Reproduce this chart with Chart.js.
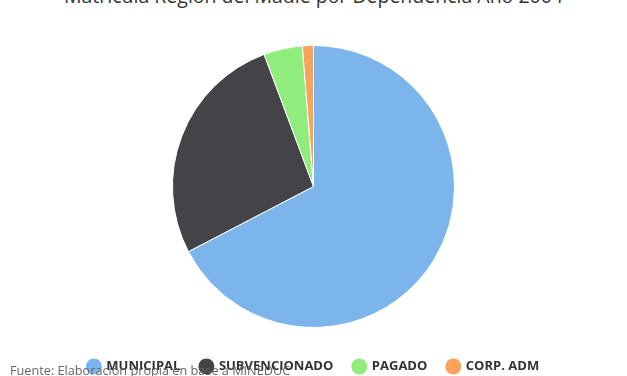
<!DOCTYPE html>
<html>
<head>
<meta charset="utf-8">
<script src="https://cdn.jsdelivr.net/npm/chart.js@4"></script>
<style>
  body { margin: 0; background: #fff; overflow: hidden; }
  #wrap { position: relative; width: 627px; height: 376px; }
  #title {
    position: absolute; left: 0; top: -14px; width: 627px;
    text-align: center; font: 19.5px "Open Sans", sans-serif; line-height: 19.5px;
    color: #333333; white-space: nowrap;
  }
  #footer {
    position: absolute; left: 10px; top: 364px;
    font: 12.7px "Open Sans", sans-serif; line-height: 13px; color: #666666;
    white-space: nowrap; z-index: 2;
  }
  canvas { position: absolute; left: 0; top: 0; }
</style>
</head>
<body>
<div id="wrap">
  <div id="title">Matrícula Región del Maule por Dependencia Año 2004</div>
  <canvas id="pieChart" width="627" height="376"></canvas>
  <div id="footer">Fuente: Elaboración propia en base a MINEDUC</div>
</div>
<script>
// data
const categories = ["MUNICIPAL", "SUBVENCIONADO", "PAGADO", "CORP. ADM"];
const matricula = [155000, 62000, 10200, 2900];
const colors = ["#7cb5ec", "#434348", "#90ed7d", "#f7a35c"];

const ctx = document.getElementById("pieChart").getContext("2d");

const chart = new Chart(ctx, {
    type: "pie",
    data: {
        labels: categories,
        datasets: [{
            data: matricula,
            backgroundColor: colors,
            borderColor: "#ffffff",
            borderWidth: 1,
            radius: 141
        }]
    },
    options: {
        responsive: false,
        animation: false,
        layout: { padding: { top: 33, bottom: -7 } },
        plugins: {
            tooltip: { enabled: false },
            legend: {
                position: "bottom",
                labels: {
                    usePointStyle: true,
                    pointStyle: "circle",
                    boxWidth: 12,
                    boxHeight: 12,
                    padding: 20,
                    color: "#333333",
                    font: { family: "Open Sans", size: 13, weight: "bold" }
                }
            }
        }
    }
});
</script>
</body>
</html>
